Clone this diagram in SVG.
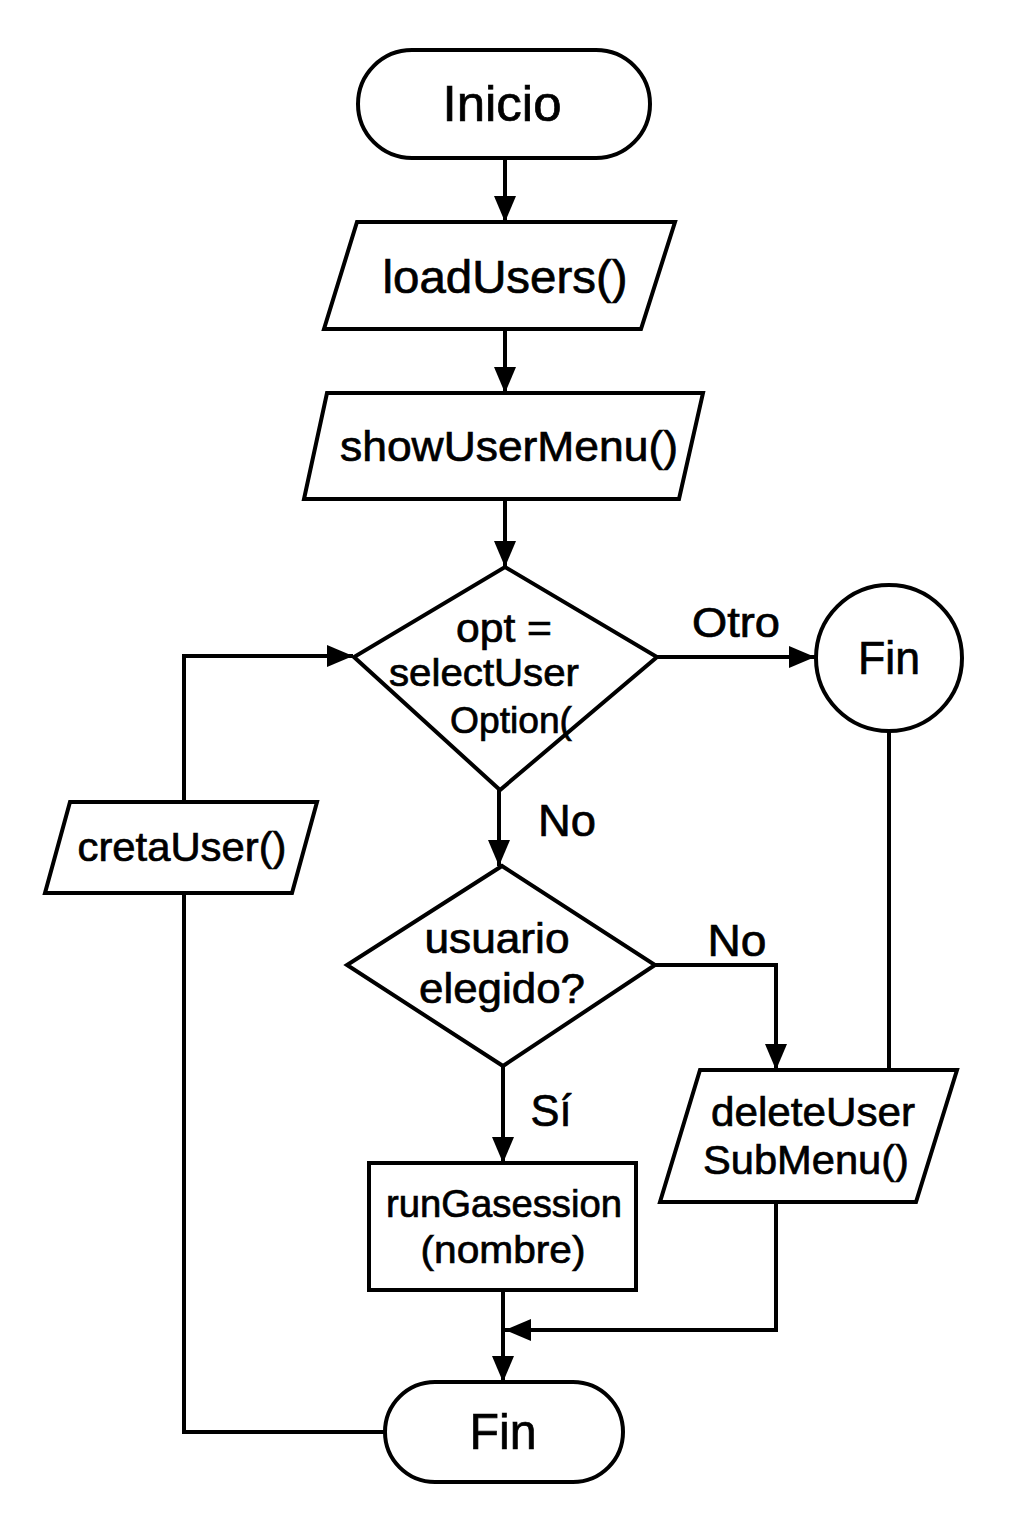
<svg xmlns="http://www.w3.org/2000/svg" width="1024" height="1536" viewBox="0 0 1024 1536">
<style>
.s{fill:#fff;stroke:#000;stroke-width:4;stroke-linejoin:miter}
.c{fill:none;stroke:#000;stroke-width:4}
text{font-family:"Liberation Sans",Arial,sans-serif;fill:#000;stroke:#000;stroke-width:0.7;text-anchor:middle;dominant-baseline:central}
</style>
<defs>
<marker id="ah" markerUnits="userSpaceOnUse" markerWidth="28" markerHeight="24" refX="26" refY="12" orient="auto">
<path d="M0,1 L26,12 L0,23 Z" fill="#000"/>
</marker>
</defs>
<rect width="1024" height="1536" fill="#fff"/>
<g id="connectors">
<line class="c" x1="505" y1="158" x2="505" y2="222" marker-end="url(#ah)"/>
<line class="c" x1="505" y1="329" x2="505" y2="393" marker-end="url(#ah)"/>
<line class="c" x1="505" y1="499" x2="505" y2="567" marker-end="url(#ah)"/>
<line class="c" x1="657" y1="657" x2="815" y2="657" marker-end="url(#ah)"/>
<line class="c" x1="889" y1="725" x2="889" y2="1070"/>
<line class="c" x1="499" y1="790" x2="499" y2="866" marker-end="url(#ah)"/>
<polyline class="c" points="655,965 776,965 776,1070" marker-end="url(#ah)"/>
<line class="c" x1="503" y1="1066" x2="503" y2="1163" marker-end="url(#ah)"/>
<line class="c" x1="503" y1="1290" x2="503" y2="1382" marker-end="url(#ah)"/>
<polyline class="c" points="776,1202 776,1330 505,1330" marker-end="url(#ah)"/>
<polyline class="c" points="385,1432 184,1432 184,893"/>
<polyline class="c" points="184,802 184,656 353,656" marker-end="url(#ah)"/>
<text x="736" y="622" font-size="42" textLength="88" lengthAdjust="spacingAndGlyphs">Otro</text>
<text x="567" y="820" font-size="44" textLength="58" lengthAdjust="spacingAndGlyphs">No</text>
<text x="737" y="940" font-size="44" textLength="59" lengthAdjust="spacingAndGlyphs">No</text>
<text x="551" y="1110" font-size="44" textLength="41" lengthAdjust="spacingAndGlyphs">Sí</text>
</g>
<g id="inicio">
<rect class="s" x="358" y="50" width="292" height="108" rx="54"/>
<text x="502" y="104" font-size="50" textLength="119" lengthAdjust="spacingAndGlyphs">Inicio</text>
</g>
<g id="loadUsers">
<polygon class="s" points="357,222 675,222 641,329 324,329"/>
<text x="505" y="277" font-size="46" textLength="245" lengthAdjust="spacingAndGlyphs">loadUsers()</text>
</g>
<g id="showUserMenu">
<polygon class="s" points="327,393 703,393 679,499 304,499"/>
<text x="509" y="446" font-size="43" textLength="338" lengthAdjust="spacingAndGlyphs">showUserMenu()</text>
</g>
<g id="selectOpt">
<polygon class="s" points="505,567 657,657 500,790 354,657"/>
<text x="504" y="628" font-size="40" textLength="96" lengthAdjust="spacingAndGlyphs">opt =</text>
<text x="484" y="673" font-size="38" textLength="190" lengthAdjust="spacingAndGlyphs">selectUser</text>
<text x="511" y="720" font-size="36" textLength="122" lengthAdjust="spacingAndGlyphs">Option(</text>
</g>
<g id="finCircle">
<circle class="s" cx="889" cy="658" r="73"/>
<text x="889" y="658" font-size="46" textLength="62" lengthAdjust="spacingAndGlyphs">Fin</text>
</g>
<g id="usuarioElegido">
<polygon class="s" points="502,866 655,965 503,1066 347,965"/>
<text x="497" y="938" font-size="42" textLength="145" lengthAdjust="spacingAndGlyphs">usuario</text>
<text x="502" y="988" font-size="42" textLength="166" lengthAdjust="spacingAndGlyphs">elegido?</text>
</g>
<g id="deleteUserSubMenu">
<polygon class="s" points="700,1070 957,1070 916,1202 660,1202"/>
<text x="813" y="1112" font-size="41" textLength="204" lengthAdjust="spacingAndGlyphs">deleteUser</text>
<text x="806" y="1160" font-size="41" textLength="206" lengthAdjust="spacingAndGlyphs">SubMenu()</text>
</g>
<g id="runGasession">
<rect class="s" x="369" y="1163" width="267" height="127"/>
<text x="504" y="1204" font-size="38" textLength="236" lengthAdjust="spacingAndGlyphs">runGasession</text>
<text x="503" y="1249" font-size="39" textLength="165" lengthAdjust="spacingAndGlyphs">(nombre)</text>
</g>
<g id="createUser">
<polygon class="s" points="70,802 317,802 292,893 45,893"/>
<text x="182" y="847" font-size="41" textLength="209" lengthAdjust="spacingAndGlyphs">cretaUser()</text>
</g>
<g id="finPill">
<rect class="s" x="385" y="1382" width="238" height="100" rx="50"/>
<text x="503" y="1432" font-size="50" textLength="67" lengthAdjust="spacingAndGlyphs">Fin</text>
</g>
</svg>
